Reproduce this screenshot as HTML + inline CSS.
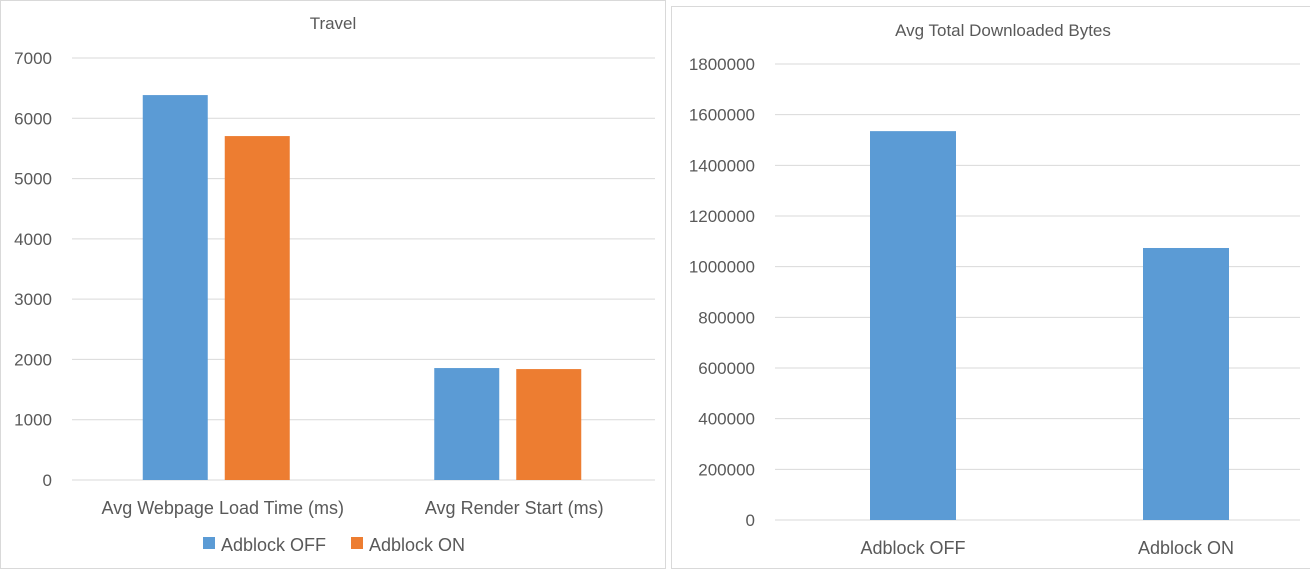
<!DOCTYPE html>
<html><head><meta charset="utf-8">
<style>
html,body{margin:0;padding:0;background:#fff;width:1310px;height:575px;overflow:hidden;font-family:"Liberation Sans",sans-serif;}
svg text{font-family:"Liberation Sans",sans-serif;fill:#595959;}
</style></head>
<body>
<svg id="c" width="1310" height="575">
<rect x="0.5" y="0.5" width="665" height="568" fill="#fff" stroke="#d9d9d9"/>
<rect x="671.5" y="6.5" width="645" height="562" fill="#fff" stroke="#d9d9d9"/>
<text x="333" y="29" font-size="17" text-anchor="middle">Travel</text>
<text x="1003" y="36" font-size="17" text-anchor="middle">Avg Total Downloaded Bytes</text>
<g id="L"></g><g id="R"></g>
<rect x="203" y="537" width="12" height="12" fill="#5b9bd5"/>
<text x="221" y="551" font-size="18">Adblock OFF</text>
<rect x="351" y="537" width="12" height="12" fill="#ed7d31"/>
<text x="369" y="551" font-size="18">Adblock ON</text>
</svg>
<script>
const leftCategories=["Avg Webpage Load Time (ms)","Avg Render Start (ms)"];
const leftOff=[6385,1857];
const leftOn=[5705,1840];
const leftTicks=[0,1000,2000,3000,4000,5000,6000,7000];
const rightCategories=["Adblock OFF","Adblock ON"];
const rightValues=[1535000,1073700];
const rightTicks=[0,200000,400000,600000,800000,1000000,1200000,1400000,1600000,1800000];
const NS="http://www.w3.org/2000/svg";
function mk(p,t,a){const e=document.createElementNS(NS,t);for(const k in a)e.setAttribute(k,a[k]);p.appendChild(e);return e;}
// left
(function(){
const g=document.getElementById('L');
const x0=72,x1=655,y0=480,y1=58,max=7000;
const y=v=>y0-(v/max)*(y0-y1);
leftTicks.forEach(t=>{
 const l=mk(g,'line',{x1:x0,x2:x1,y1:y(t),y2:y(t),stroke:'#d9d9d9'});
 
 
 const tx=mk(g,'text',{x:52,y:y(t)+6,'font-size':17,'text-anchor':'end'});tx.textContent=t;
 
 
});
const bw=(x1-x0)/leftCategories.length;
leftCategories.forEach((c,i)=>{
 const cx=x0+bw*(i+0.5);
 const b1=mk(g,'rect',{x:cx-146+72-1,y:y(leftOff[i]),width:65,height:y0-y(leftOff[i]),fill:'#5b9bd5'});
 
 
 const b2=mk(g,'rect',{x:cx-146+154-1,y:y(leftOn[i]),width:65,height:y0-y(leftOn[i]),fill:'#ed7d31'});
 
 
 const t=mk(g,'text',{x:cx+5,y:514,'font-size':18,'text-anchor':'middle'});t.textContent=c;
 
 
});
})();
// right
(function(){
const g=document.getElementById('R');
const x0=775,x1=1300,y0=520,y1=64,max=1800000;
const y=v=>y0-(v/max)*(y0-y1);
rightTicks.forEach(t=>{
 const l=mk(g,'line',{x1:x0,x2:x1,y1:y(t),y2:y(t),stroke:'#d9d9d9'});
 
 
 const tx=mk(g,'text',{x:755,y:y(t)+6,'font-size':17,'text-anchor':'end'});tx.textContent=t;
 
 
});
const bw=273;
rightCategories.forEach((c,i)=>{
 const cx=913+bw*i;
 const b=mk(g,'rect',{x:cx-43,y:y(rightValues[i]),width:86,height:y0-y(rightValues[i]),fill:'#5b9bd5'});
 
 
 const t=mk(g,'text',{x:cx,y:554,'font-size':18,'text-anchor':'middle'});t.textContent=c;
 
 
});
})();
</script>
</body></html>
